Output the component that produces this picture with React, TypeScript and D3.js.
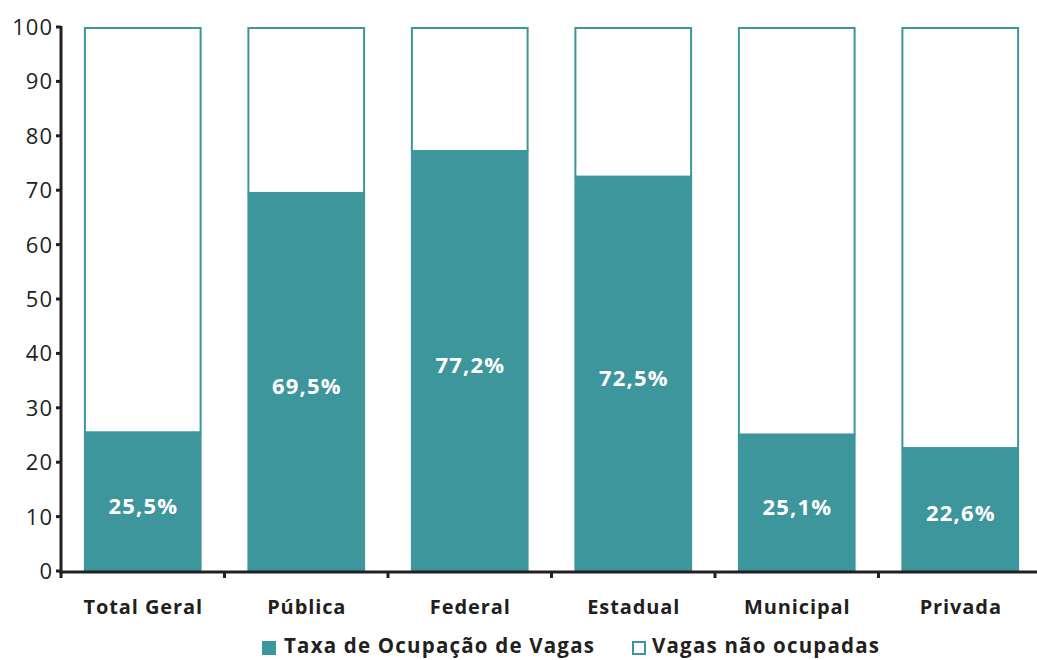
import React from "react";
import * as d3 from "d3";

const categories = ["Total Geral", "Pública", "Federal", "Estadual", "Municipal", "Privada"];
const occupied = [25.5, 69.5, 77.2, 72.5, 25.1, 22.6];
const yTicks = [0, 10, 20, 30, 40, 50, 60, 70, 80, 90, 100];
const legendLabels = ["Taxa de Ocupação de Vagas", "Vagas não ocupadas"];

const TEAL = "#3E969D";
const TEXT = "#231F20";
const FONT = "'Open Sans', 'Noto Sans', sans-serif";

export default function App() {
  const W = 1037, H = 660;
  const left = 61, right = 1042, top = 27, bottom = 571;
  const x = d3.scaleBand<string>().domain(categories).range([left, right]).paddingInner(0.28).paddingOuter(0.14);
  const step = x.step();
  const y = d3.scaleLinear().domain([0, 100]).range([bottom, top]);
  const fmt = (v: number) => v.toFixed(1).replace(".", ",") + "%";

  return (
    <svg width={W} height={H} style={{ position: "absolute", left: 0, top: 0, background: "#fff" }} fontFamily={FONT}>
      {categories.map((c, i) => {
        const bx = x(c)!;
        const bw = x.bandwidth();
        const v = occupied[i];
        return (
          <g key={c}>
            <rect x={bx + 1} y={y(100) + 1} width={bw - 2} height={y(v) - y(100) - 1} fill="#fff" stroke={TEAL} strokeWidth={2} />
            <rect x={bx} y={y(v)} width={bw} height={y(0) - y(v)} fill={TEAL} />
            <text x={bx + bw / 2 + 0.6} y={(y(v) + y(0)) / 2 + 4} dy="0.36em" textAnchor="middle" fill="#fff" fontSize={22} fontWeight={700} letterSpacing={1.2}>
              {fmt(v)}
            </text>
          </g>
        );
      })}
      {/* y axis */}
      <line x1={left} x2={left} y1={top - 1} y2={bottom + 2} stroke={TEXT} strokeWidth={3} />
      {yTicks.map((t) => (
        <g key={t}>
          <line x1={left - 5} x2={left} y1={y(t)} y2={y(t)} stroke={TEXT} strokeWidth={3} />
          <text x={left - 8} y={y(t)} dy="0.36em" textAnchor="end" fill={TEXT} fontSize={22} letterSpacing={1}>
            {t}
          </text>
        </g>
      ))}
      {/* x axis */}
      <line x1={left - 1.5} x2={right} y1={bottom + 1} y2={bottom + 1} stroke={TEXT} strokeWidth={3} />
      {d3.range(categories.length + 1).map((i) => (
        <line key={i} x1={left + i * step} x2={left + i * step} y1={bottom} y2={bottom + 7} stroke={TEXT} strokeWidth={3} />
      ))}
      {categories.map((c) => (
        <text key={c} x={x(c)! + x.bandwidth() / 2 + 0.5} y={607} dy="0.36em" textAnchor="middle" fill={TEXT} fontSize={20} fontWeight={700} letterSpacing={0.9}>
          {c}
        </text>
      ))}
      {/* legend */}
      <rect x={262} y={641} width={14} height={14} fill={TEAL} />
      <text x={284} y={646} dy="0.36em" fill={TEXT} fontSize={20.5} fontWeight={700} letterSpacing={1.2}>{legendLabels[0]}</text>
      <rect x={633} y={642} width={12} height={12} fill="#fff" stroke={TEAL} strokeWidth={2} />
      <text x={652} y={646} dy="0.36em" fill={TEXT} fontSize={20.5} fontWeight={700} letterSpacing={1.2}>{legendLabels[1]}</text>
    </svg>
  );
}
